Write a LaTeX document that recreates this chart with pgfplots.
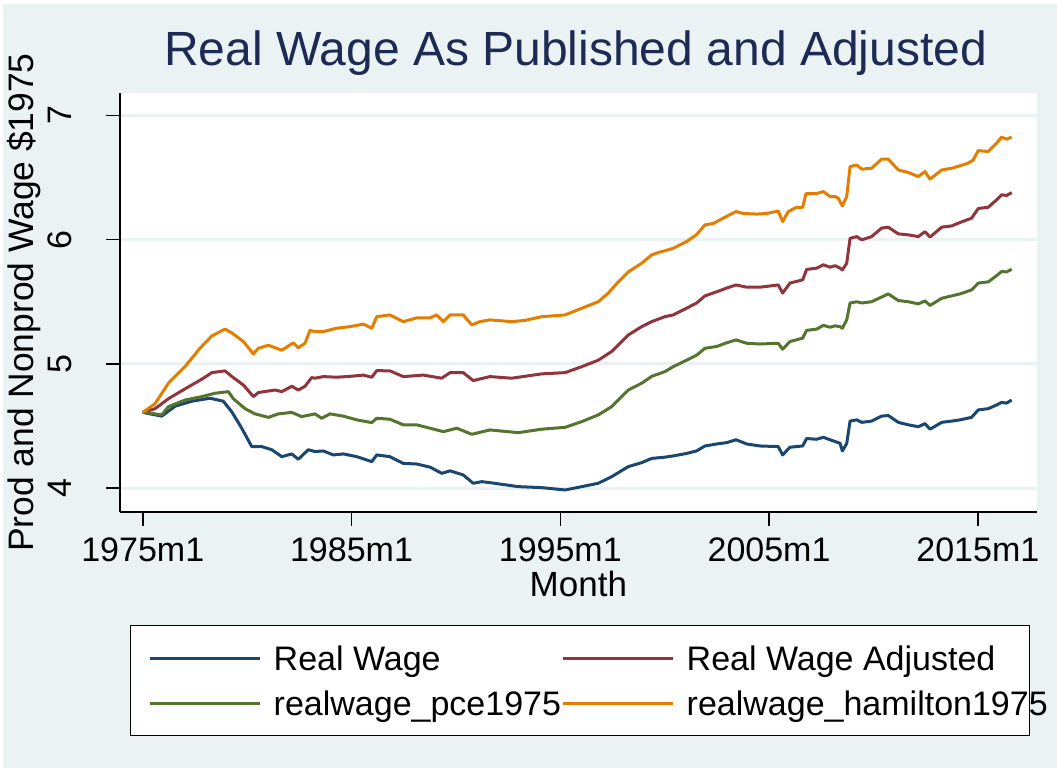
\documentclass[border=0pt]{standalone}
\usepackage{pgfplots}
\pgfplotsset{compat=1.18}
\usepackage{pgfplotstable}
\usepackage{fontspec}
\setmainfont{Liberation Sans}
\definecolor{bgblue}{RGB}{234,242,243}
\definecolor{snavy}{RGB}{26,71,111}
\definecolor{smaroon}{RGB}{144,53,59}
\definecolor{sgreen}{RGB}{85,117,47}
\definecolor{sorange}{RGB}{227,126,0}
\definecolor{titleblue}{RGB}{28,42,84}

\pgfplotstableread{
x y
1975.00 4.61
1975.30 4.60
1975.91 4.58
1976.55 4.66
1977.35 4.70
1978.22 4.724
1978.86 4.70
1979.26 4.616
1979.74 4.483
1980.22 4.335
1980.70 4.335
1981.18 4.31
1981.66 4.254
1982.14 4.276
1982.45 4.233
1982.93 4.31
1983.25 4.295
1983.65 4.30
1984.13 4.268
1984.61 4.276
1985.25 4.254
1985.97 4.214
1986.21 4.268
1986.84 4.254
1987.48 4.20
1988.12 4.195
1988.76 4.17
1989.32 4.12
1989.72 4.14
1990.35 4.107
1990.83 4.04
1991.24 4.053
1991.63 4.045
1992.99 4.013
1994.11 4.005
1995.23 3.986
1996.03 4.013
1996.82 4.04
1997.46 4.093
1998.26 4.174
1998.90 4.206
1999.38 4.24
2000.01 4.25
2000.41 4.26
2001.05 4.28
2001.53 4.30
2001.93 4.34
2002.49 4.356
2002.97 4.367
2003.42 4.39
2003.93 4.356
2004.56 4.34
2005.44 4.335
2005.65 4.268
2006.00 4.33
2006.61 4.34
2006.80 4.40
2007.28 4.394
2007.60 4.41
2007.92 4.39
2008.40 4.362
2008.51 4.30
2008.72 4.36
2008.88 4.54
2009.20 4.55
2009.44 4.53
2009.91 4.54
2010.39 4.58
2010.71 4.585
2011.19 4.53
2011.67 4.51
2012.15 4.495
2012.47 4.52
2012.71 4.475
2013.27 4.53
2013.75 4.54
2014.14 4.55
2014.70 4.57
2015.02 4.63
2015.50 4.64
2015.90 4.67
2016.14 4.69
2016.38 4.685
2016.62 4.71
}\realwage

\pgfplotstableread{
x y
1975.00 4.61
1975.59 4.64
1976.23 4.72
1977.03 4.80
1977.83 4.877
1978.31 4.93
1978.94 4.944
1979.26 4.90
1979.82 4.83
1980.30 4.737
1980.54 4.77
1981.34 4.79
1981.66 4.777
1982.14 4.82
1982.45 4.79
1982.77 4.82
1983.09 4.89
1983.25 4.885
1983.65 4.898
1984.29 4.893
1984.93 4.90
1985.57 4.91
1985.97 4.893
1986.21 4.946
1986.84 4.944
1987.48 4.898
1988.44 4.91
1989.32 4.885
1989.72 4.93
1990.35 4.93
1990.83 4.866
1991.63 4.898
1992.67 4.885
1994.11 4.92
1995.23 4.93
1996.03 4.978
1996.82 5.03
1997.46 5.10
1998.26 5.233
1998.90 5.30
1999.38 5.34
2000.01 5.38
2000.41 5.394
2001.05 5.448
2001.53 5.49
2001.93 5.547
2002.49 5.58
2002.97 5.61
2003.42 5.635
2003.93 5.617
2004.56 5.617
2005.44 5.635
2005.65 5.57
2006.00 5.65
2006.61 5.676
2006.80 5.76
2007.28 5.77
2007.60 5.797
2007.92 5.778
2008.16 5.79
2008.40 5.77
2008.51 5.756
2008.72 5.81
2008.88 6.01
2009.20 6.024
2009.44 5.998
2009.91 6.024
2010.39 6.092
2010.71 6.10
2011.19 6.046
2011.67 6.038
2012.15 6.024
2012.47 6.064
2012.71 6.02
2013.27 6.10
2013.75 6.11
2014.14 6.137
2014.70 6.172
2015.02 6.25
2015.50 6.26
2015.90 6.32
2016.14 6.36
2016.38 6.355
2016.62 6.378
}\adjusted

\pgfplotstableread{
x y
1975.00 4.61
1975.11 4.61
1975.91 4.59
1976.23 4.656
1977.03 4.71
1977.83 4.737
1978.46 4.764
1979.10 4.777
1979.34 4.72
1979.90 4.64
1980.38 4.598
1981.02 4.57
1981.49 4.598
1982.14 4.61
1982.61 4.576
1983.25 4.598
1983.57 4.563
1983.97 4.598
1984.61 4.58
1985.25 4.55
1985.97 4.528
1986.21 4.563
1986.84 4.555
1987.48 4.51
1988.12 4.51
1988.76 4.483
1989.40 4.455
1990.04 4.483
1990.76 4.434
1991.63 4.469
1992.99 4.447
1994.11 4.475
1995.23 4.49
1996.03 4.536
1996.82 4.59
1997.46 4.656
1998.26 4.79
1998.90 4.845
1999.38 4.90
2000.01 4.938
2000.41 4.978
2001.05 5.03
2001.53 5.07
2001.93 5.126
2002.49 5.14
2002.97 5.17
2003.42 5.193
2003.93 5.166
2004.56 5.16
2005.44 5.166
2005.65 5.118
2006.00 5.18
2006.61 5.207
2006.80 5.27
2007.28 5.28
2007.60 5.31
2007.92 5.295
2008.16 5.306
2008.40 5.30
2008.51 5.287
2008.72 5.354
2008.88 5.49
2009.20 5.50
2009.44 5.49
2009.91 5.50
2010.71 5.563
2011.19 5.51
2011.67 5.50
2012.15 5.483
2012.47 5.507
2012.71 5.47
2013.27 5.528
2014.14 5.563
2014.70 5.595
2015.02 5.65
2015.50 5.66
2015.90 5.71
2016.14 5.743
2016.38 5.74
2016.62 5.762
}\pce

\pgfplotstableread{
x y
1975.00 4.61
1975.59 4.68
1976.23 4.845
1977.03 4.98
1977.74 5.126
1978.31 5.225
1978.94 5.28
1979.26 5.25
1979.82 5.18
1980.30 5.08
1980.54 5.126
1981.02 5.15
1981.66 5.11
1982.21 5.17
1982.45 5.13
1982.77 5.166
1983.01 5.27
1983.25 5.26
1983.65 5.26
1984.29 5.287
1984.93 5.30
1985.57 5.32
1985.97 5.287
1986.21 5.38
1986.84 5.394
1987.48 5.34
1988.12 5.37
1988.76 5.37
1989.08 5.394
1989.40 5.34
1989.72 5.394
1990.35 5.394
1990.76 5.314
1991.15 5.34
1991.63 5.354
1992.67 5.34
1993.31 5.35
1994.11 5.38
1995.23 5.394
1996.03 5.448
1996.82 5.50
1997.30 5.57
1997.78 5.66
1998.26 5.74
1998.90 5.81
1999.38 5.877
1999.78 5.90
2000.01 5.91
2000.41 5.93
2001.05 5.984
2001.53 6.04
2001.93 6.118
2002.33 6.13
2002.89 6.18
2003.42 6.225
2003.77 6.21
2004.41 6.205
2004.89 6.21
2005.44 6.23
2005.65 6.145
2005.92 6.225
2006.32 6.26
2006.61 6.26
2006.77 6.37
2007.28 6.37
2007.60 6.386
2007.92 6.346
2008.16 6.346
2008.31 6.333
2008.40 6.306
2008.51 6.27
2008.72 6.346
2008.88 6.587
2009.20 6.60
2009.44 6.566
2009.91 6.574
2010.39 6.647
2010.71 6.647
2011.19 6.56
2011.67 6.54
2012.15 6.507
2012.47 6.547
2012.71 6.486
2013.27 6.56
2013.75 6.574
2014.14 6.593
2014.54 6.615
2014.78 6.64
2015.02 6.716
2015.50 6.708
2015.90 6.775
2016.14 6.824
2016.38 6.808
2016.62 6.824
}\hamilton

\begin{document}
\begin{tikzpicture}[font=\fontsize{17}{20}\selectfont]
\useasboundingbox (0,0) rectangle (528.5pt,385.5pt);
\fill[white] (0,0) rectangle (528.5pt,385.5pt);
\fill[bgblue] (1.5pt,1.5pt) rectangle (528.5pt,383.5pt);
\begin{axis}[
  at={(60pt,129.5pt)}, anchor=south west,
  scale only axis,
  width=458.35pt, height=209.5pt,
  xmin=1973.91, xmax=2017.82,
  ymin=3.809, ymax=7.179,
  axis background/.style={fill=white},
  axis x line*=bottom, axis y line*=left,
  axis line style={black, line width=0.75pt},
  every outer x axis line/.append style={-},
  every outer y axis line/.append style={-},
  xtick={1975,1985,1995,2005,2015},
  xticklabels={1975m1,1985m1,1995m1,2005m1,2015m1},
  ytick={4,5,6,7},
  tick align=outside,
  major tick length=7pt,
  tick style={black, line width=0.75pt},
  /pgf/number format/assume math mode=true,
  ticklabel style={font=\fontsize{17}{20}\selectfont},
  yticklabel style={rotate=90, anchor=south, inner sep=0pt, yshift=17pt},
  xticklabel style={anchor=north, inner sep=0pt, yshift=-5.5pt},
  ymajorgrids,
  major grid style={bgblue, line width=1.5pt},
  title={Real Wage As Published and Adjusted},
  title style={at={(axis description cs:0.497,1)}, anchor=base, yshift=7.5pt, font=\fontsize{24}{28}\selectfont, text=titleblue, inner sep=0pt},
  xlabel={Month},
  xlabel style={at={(axis description cs:0.5,0)}, anchor=north, yshift=-29.5pt, inner sep=0pt, font=\fontsize{17.5}{20}\selectfont},
  ylabel={Prod and Nonprod Wage \$1975},
  ylabel style={at={(axis description cs:-0.105,0.5)}, anchor=center, inner sep=0pt, font=\fontsize{17.7}{20}\selectfont},
  legend columns=2,
  legend cell align=left,
  legend image code/.code={\draw[#1, line width=1.5pt] (0pt,0pt) -- (55pt,0pt);},
  legend style={at={(axis description cs:0.0109,-0.2697)}, anchor=north west,
    draw=black, line width=0.75pt, fill=white,
    inner xsep=9pt, inner ysep=10pt, column sep=0pt, row sep=10.1pt,
    font=\fontsize{17}{20}\selectfont,
    nodes={inner sep=0pt, text height=12.4pt, text depth=0pt}},
  every axis plot/.append style={line width=1.5pt, line join=round},
]
\addplot[snavy] table {\realwage};
\addlegendentry{\makebox[150pt][l]{\hspace*{6pt}Real Wage}}
\addplot[smaroon] table {\adjusted};
\addlegendentry{\makebox[168.5pt][l]{\hspace*{6pt}Real Wage Adjusted}}
\addplot[sgreen] table {\pce};
\addlegendentry{\makebox[150pt][l]{\hspace*{6pt}realwage\_pce1975}}
\addplot[sorange] table {\hamilton};
\addlegendentry{\makebox[168.5pt][l]{\hspace*{6pt}realwage\_hamilton1975}}
\end{axis}
\end{tikzpicture}
\end{document}
